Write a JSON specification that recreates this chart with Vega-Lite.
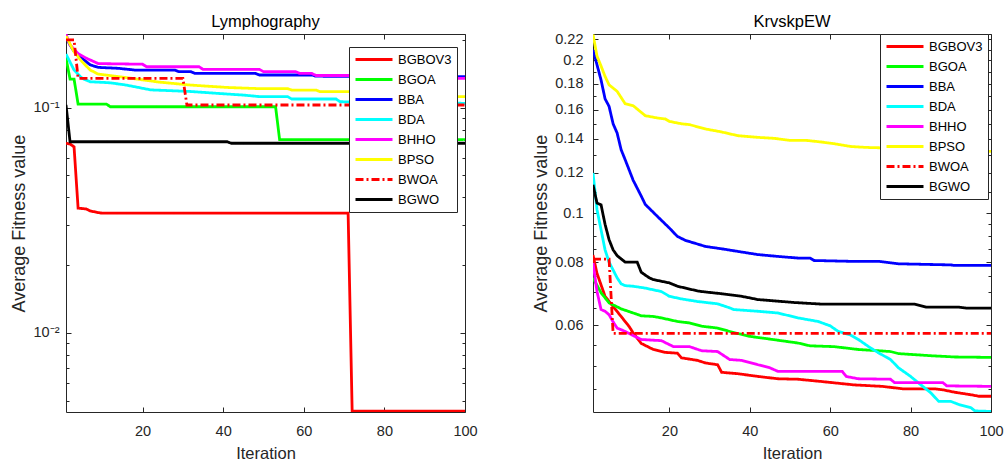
{
  "$schema": "https://vega.github.io/schema/vega-lite/v6.json",
  "background": "white",
  "padding": {"left": 10, "top": 13, "right": 5, "bottom": 5},
  "bounds": "flush",
  "spacing": 128,
  "config": {
    "font": "Liberation Sans",
    "view": {"stroke": null},
    "axis": {
      "grid": false,
      "labelFont": "Liberation Sans",
      "labelFontSize": 14.5,
      "labelColor": "#262626",
      "labelFlush": false,
      "titleFont": "Liberation Sans",
      "titleFontWeight": "normal",
      "titleColor": "#262626",
      "domainColor": "#262626",
      "tickColor": "#262626",
      "labelOverlap": false
    },
    "title": {"font": "Liberation Sans", "fontSize": 16.5, "fontWeight": "normal", "color": "#000000", "offset": 1},
    "legend": {
      "symbolType": "stroke",
      "symbolSize": 1369,
      "symbolStrokeWidth": 3,
      "clipHeight": 15,
      "rowPadding": 5,
      "padding": 5,
      "labelFont": "Liberation Sans",
      "labelFontSize": 13,
      "labelColor": "#000000",
      "labelOffset": 4,
      "labelLimit": 200,
      "strokeColor": "#262626",
      "fillColor": "white"
    }
  },
  "datasets": {
    "lymph": [
      {"alg": "BGBOV3", "it": 1, "v": 0.0695}, {"alg": "BGBOV3", "it": 2, "v": 0.069}, {"alg": "BGBOV3", "it": 3, "v": 0.067}, {"alg": "BGBOV3", "it": 4, "v": 0.0358}, {"alg": "BGBOV3", "it": 6, "v": 0.0355}, {"alg": "BGBOV3", "it": 7, "v": 0.0348}, {"alg": "BGBOV3", "it": 9, "v": 0.0342}, {"alg": "BGBOV3", "it": 10, "v": 0.034}, {"alg": "BGBOV3", "it": 71, "v": 0.034}, {"alg": "BGBOV3", "it": 72, "v": 0.00449}, {"alg": "BGBOV3", "it": 100, "v": 0.00449},
      {"alg": "BGOA", "it": 1, "v": 0.166}, {"alg": "BGOA", "it": 2, "v": 0.134}, {"alg": "BGOA", "it": 3, "v": 0.134}, {"alg": "BGOA", "it": 4, "v": 0.1038}, {"alg": "BGOA", "it": 11, "v": 0.1038}, {"alg": "BGOA", "it": 12, "v": 0.101}, {"alg": "BGOA", "it": 53, "v": 0.101}, {"alg": "BGOA", "it": 54, "v": 0.0722}, {"alg": "BGOA", "it": 100, "v": 0.0722},
      {"alg": "BBA", "it": 1, "v": 0.205}, {"alg": "BBA", "it": 2, "v": 0.19}, {"alg": "BBA", "it": 3, "v": 0.178}, {"alg": "BBA", "it": 5, "v": 0.1657}, {"alg": "BBA", "it": 7, "v": 0.155}, {"alg": "BBA", "it": 9, "v": 0.151}, {"alg": "BBA", "it": 14, "v": 0.1496}, {"alg": "BBA", "it": 18, "v": 0.147}, {"alg": "BBA", "it": 28, "v": 0.147}, {"alg": "BBA", "it": 29, "v": 0.1445}, {"alg": "BBA", "it": 32, "v": 0.1445}, {"alg": "BBA", "it": 33, "v": 0.142}, {"alg": "BBA", "it": 48, "v": 0.142}, {"alg": "BBA", "it": 49, "v": 0.1397}, {"alg": "BBA", "it": 62, "v": 0.1397}, {"alg": "BBA", "it": 63, "v": 0.138}, {"alg": "BBA", "it": 100, "v": 0.1375},
      {"alg": "BDA", "it": 1, "v": 0.173}, {"alg": "BDA", "it": 3, "v": 0.147}, {"alg": "BDA", "it": 5, "v": 0.135}, {"alg": "BDA", "it": 7, "v": 0.1304}, {"alg": "BDA", "it": 12, "v": 0.129}, {"alg": "BDA", "it": 16, "v": 0.126}, {"alg": "BDA", "it": 22, "v": 0.12}, {"alg": "BDA", "it": 32, "v": 0.118}, {"alg": "BDA", "it": 41, "v": 0.115}, {"alg": "BDA", "it": 45, "v": 0.1138}, {"alg": "BDA", "it": 49, "v": 0.112}, {"alg": "BDA", "it": 56, "v": 0.112}, {"alg": "BDA", "it": 57, "v": 0.1093}, {"alg": "BDA", "it": 68, "v": 0.1093}, {"alg": "BDA", "it": 69, "v": 0.1063}, {"alg": "BDA", "it": 85, "v": 0.105}, {"alg": "BDA", "it": 100, "v": 0.1046},
      {"alg": "BHHO", "it": 1, "v": 0.212}, {"alg": "BHHO", "it": 2, "v": 0.19}, {"alg": "BHHO", "it": 4, "v": 0.174}, {"alg": "BHHO", "it": 6, "v": 0.166}, {"alg": "BHHO", "it": 8, "v": 0.16}, {"alg": "BHHO", "it": 9, "v": 0.157}, {"alg": "BHHO", "it": 20, "v": 0.156}, {"alg": "BHHO", "it": 21, "v": 0.152}, {"alg": "BHHO", "it": 34, "v": 0.152}, {"alg": "BHHO", "it": 35, "v": 0.148}, {"alg": "BHHO", "it": 49, "v": 0.148}, {"alg": "BHHO", "it": 50, "v": 0.1445}, {"alg": "BHHO", "it": 58, "v": 0.1445}, {"alg": "BHHO", "it": 59, "v": 0.142}, {"alg": "BHHO", "it": 62, "v": 0.142}, {"alg": "BHHO", "it": 63, "v": 0.139}, {"alg": "BHHO", "it": 80, "v": 0.139}, {"alg": "BHHO", "it": 81, "v": 0.1351}, {"alg": "BHHO", "it": 100, "v": 0.1351},
      {"alg": "BPSO", "it": 1, "v": 0.208}, {"alg": "BPSO", "it": 3, "v": 0.177}, {"alg": "BPSO", "it": 5, "v": 0.16}, {"alg": "BPSO", "it": 7, "v": 0.147}, {"alg": "BPSO", "it": 9, "v": 0.141}, {"alg": "BPSO", "it": 16, "v": 0.136}, {"alg": "BPSO", "it": 24, "v": 0.13}, {"alg": "BPSO", "it": 32, "v": 0.126}, {"alg": "BPSO", "it": 41, "v": 0.123}, {"alg": "BPSO", "it": 49, "v": 0.1215}, {"alg": "BPSO", "it": 56, "v": 0.1215}, {"alg": "BPSO", "it": 57, "v": 0.1198}, {"alg": "BPSO", "it": 63, "v": 0.1198}, {"alg": "BPSO", "it": 64, "v": 0.1178}, {"alg": "BPSO", "it": 72, "v": 0.1178}, {"alg": "BPSO", "it": 90, "v": 0.116}, {"alg": "BPSO", "it": 96, "v": 0.115}, {"alg": "BPSO", "it": 98, "v": 0.112}, {"alg": "BPSO", "it": 100, "v": 0.112},
      {"alg": "BWOA", "it": 1, "v": 0.2}, {"alg": "BWOA", "it": 3, "v": 0.2}, {"alg": "BWOA", "it": 4, "v": 0.1351}, {"alg": "BWOA", "it": 30, "v": 0.1351}, {"alg": "BWOA", "it": 31, "v": 0.1028}, {"alg": "BWOA", "it": 100, "v": 0.1028},
      {"alg": "BGWO", "it": 1, "v": 0.103}, {"alg": "BGWO", "it": 2, "v": 0.0706}, {"alg": "BGWO", "it": 41, "v": 0.0706}, {"alg": "BGWO", "it": 42, "v": 0.0695}, {"alg": "BGWO", "it": 100, "v": 0.0695}
    ],
    "krvs": [
      {"alg": "BGBOV3", "it": 1, "v": 0.0826}, {"alg": "BGBOV3", "it": 2, "v": 0.076}, {"alg": "BGBOV3", "it": 4, "v": 0.0685}, {"alg": "BGBOV3", "it": 6, "v": 0.0654}, {"alg": "BGBOV3", "it": 8, "v": 0.0625}, {"alg": "BGBOV3", "it": 10, "v": 0.0597}, {"alg": "BGBOV3", "it": 11, "v": 0.058}, {"alg": "BGBOV3", "it": 13, "v": 0.0553}, {"alg": "BGBOV3", "it": 16, "v": 0.0538}, {"alg": "BGBOV3", "it": 19, "v": 0.0531}, {"alg": "BGBOV3", "it": 22, "v": 0.0529}, {"alg": "BGBOV3", "it": 23, "v": 0.0518}, {"alg": "BGBOV3", "it": 27, "v": 0.0512}, {"alg": "BGBOV3", "it": 29, "v": 0.0506}, {"alg": "BGBOV3", "it": 32, "v": 0.0502}, {"alg": "BGBOV3", "it": 33, "v": 0.0485}, {"alg": "BGBOV3", "it": 37, "v": 0.0482}, {"alg": "BGBOV3", "it": 42, "v": 0.0476}, {"alg": "BGBOV3", "it": 47, "v": 0.0471}, {"alg": "BGBOV3", "it": 52, "v": 0.047}, {"alg": "BGBOV3", "it": 58, "v": 0.0465}, {"alg": "BGBOV3", "it": 66, "v": 0.0458}, {"alg": "BGBOV3", "it": 73, "v": 0.0455}, {"alg": "BGBOV3", "it": 78, "v": 0.045}, {"alg": "BGBOV3", "it": 86, "v": 0.045}, {"alg": "BGBOV3", "it": 88, "v": 0.0448}, {"alg": "BGBOV3", "it": 91, "v": 0.0443}, {"alg": "BGBOV3", "it": 95, "v": 0.0438}, {"alg": "BGBOV3", "it": 97, "v": 0.0435}, {"alg": "BGBOV3", "it": 100, "v": 0.0435},
      {"alg": "BGOA", "it": 1, "v": 0.0745}, {"alg": "BGOA", "it": 3, "v": 0.0696}, {"alg": "BGOA", "it": 5, "v": 0.0665}, {"alg": "BGOA", "it": 8, "v": 0.0647}, {"alg": "BGOA", "it": 11, "v": 0.0635}, {"alg": "BGOA", "it": 13, "v": 0.0627}, {"alg": "BGOA", "it": 16, "v": 0.0625}, {"alg": "BGOA", "it": 18, "v": 0.0621}, {"alg": "BGOA", "it": 22, "v": 0.0611}, {"alg": "BGOA", "it": 25, "v": 0.0607}, {"alg": "BGOA", "it": 28, "v": 0.0598}, {"alg": "BGOA", "it": 32, "v": 0.0593}, {"alg": "BGOA", "it": 36, "v": 0.0581}, {"alg": "BGOA", "it": 40, "v": 0.0571}, {"alg": "BGOA", "it": 45, "v": 0.0564}, {"alg": "BGOA", "it": 52, "v": 0.0554}, {"alg": "BGOA", "it": 55, "v": 0.0547}, {"alg": "BGOA", "it": 61, "v": 0.0545}, {"alg": "BGOA", "it": 67, "v": 0.0538}, {"alg": "BGOA", "it": 75, "v": 0.0533}, {"alg": "BGOA", "it": 77, "v": 0.0528}, {"alg": "BGOA", "it": 85, "v": 0.0523}, {"alg": "BGOA", "it": 91, "v": 0.052}, {"alg": "BGOA", "it": 100, "v": 0.0519},
      {"alg": "BBA", "it": 1, "v": 0.21}, {"alg": "BBA", "it": 3, "v": 0.183}, {"alg": "BBA", "it": 4, "v": 0.168}, {"alg": "BBA", "it": 5, "v": 0.1623}, {"alg": "BBA", "it": 6, "v": 0.15}, {"alg": "BBA", "it": 7, "v": 0.1438}, {"alg": "BBA", "it": 8, "v": 0.1333}, {"alg": "BBA", "it": 9, "v": 0.1274}, {"alg": "BBA", "it": 11, "v": 0.116}, {"alg": "BBA", "it": 13, "v": 0.108}, {"alg": "BBA", "it": 14, "v": 0.104}, {"alg": "BBA", "it": 17, "v": 0.0985}, {"alg": "BBA", "it": 20, "v": 0.0934}, {"alg": "BBA", "it": 22, "v": 0.0899}, {"alg": "BBA", "it": 24, "v": 0.0883}, {"alg": "BBA", "it": 29, "v": 0.0859}, {"alg": "BBA", "it": 33, "v": 0.085}, {"alg": "BBA", "it": 37, "v": 0.084}, {"alg": "BBA", "it": 42, "v": 0.0828}, {"alg": "BBA", "it": 47, "v": 0.0821}, {"alg": "BBA", "it": 52, "v": 0.0815}, {"alg": "BBA", "it": 55, "v": 0.0815}, {"alg": "BBA", "it": 56, "v": 0.0806}, {"alg": "BBA", "it": 65, "v": 0.0803}, {"alg": "BBA", "it": 72, "v": 0.0803}, {"alg": "BBA", "it": 77, "v": 0.0794}, {"alg": "BBA", "it": 90, "v": 0.079}, {"alg": "BBA", "it": 91, "v": 0.0788}, {"alg": "BBA", "it": 100, "v": 0.0788},
      {"alg": "BDA", "it": 1, "v": 0.12}, {"alg": "BDA", "it": 2, "v": 0.1015}, {"alg": "BDA", "it": 3, "v": 0.0927}, {"alg": "BDA", "it": 4, "v": 0.0846}, {"alg": "BDA", "it": 5, "v": 0.08}, {"alg": "BDA", "it": 7, "v": 0.0745}, {"alg": "BDA", "it": 8, "v": 0.0725}, {"alg": "BDA", "it": 9, "v": 0.0719}, {"alg": "BDA", "it": 11, "v": 0.0717}, {"alg": "BDA", "it": 14, "v": 0.0711}, {"alg": "BDA", "it": 18, "v": 0.07}, {"alg": "BDA", "it": 20, "v": 0.0685}, {"alg": "BDA", "it": 23, "v": 0.0677}, {"alg": "BDA", "it": 27, "v": 0.0669}, {"alg": "BDA", "it": 32, "v": 0.0662}, {"alg": "BDA", "it": 35, "v": 0.065}, {"alg": "BDA", "it": 36, "v": 0.0645}, {"alg": "BDA", "it": 42, "v": 0.064}, {"alg": "BDA", "it": 47, "v": 0.0635}, {"alg": "BDA", "it": 52, "v": 0.0621}, {"alg": "BDA", "it": 57, "v": 0.0611}, {"alg": "BDA", "it": 60, "v": 0.0599}, {"alg": "BDA", "it": 62, "v": 0.0584}, {"alg": "BDA", "it": 65, "v": 0.0575}, {"alg": "BDA", "it": 67, "v": 0.0563}, {"alg": "BDA", "it": 70, "v": 0.0542}, {"alg": "BDA", "it": 72, "v": 0.053}, {"alg": "BDA", "it": 75, "v": 0.0514}, {"alg": "BDA", "it": 77, "v": 0.0495}, {"alg": "BDA", "it": 80, "v": 0.0476}, {"alg": "BDA", "it": 82, "v": 0.0462}, {"alg": "BDA", "it": 85, "v": 0.0442}, {"alg": "BDA", "it": 87, "v": 0.0425}, {"alg": "BDA", "it": 90, "v": 0.0425}, {"alg": "BDA", "it": 92, "v": 0.0419}, {"alg": "BDA", "it": 95, "v": 0.0413}, {"alg": "BDA", "it": 96, "v": 0.0407}, {"alg": "BDA", "it": 100, "v": 0.0406},
      {"alg": "BHHO", "it": 1, "v": 0.0797}, {"alg": "BHHO", "it": 2, "v": 0.07}, {"alg": "BHHO", "it": 3, "v": 0.0645}, {"alg": "BHHO", "it": 4, "v": 0.064}, {"alg": "BHHO", "it": 5, "v": 0.063}, {"alg": "BHHO", "it": 6, "v": 0.061}, {"alg": "BHHO", "it": 7, "v": 0.0593}, {"alg": "BHHO", "it": 9, "v": 0.0584}, {"alg": "BHHO", "it": 11, "v": 0.0573}, {"alg": "BHHO", "it": 13, "v": 0.0563}, {"alg": "BHHO", "it": 18, "v": 0.056}, {"alg": "BHHO", "it": 20, "v": 0.055}, {"alg": "BHHO", "it": 21, "v": 0.0545}, {"alg": "BHHO", "it": 25, "v": 0.0545}, {"alg": "BHHO", "it": 28, "v": 0.0535}, {"alg": "BHHO", "it": 32, "v": 0.0533}, {"alg": "BHHO", "it": 35, "v": 0.0514}, {"alg": "BHHO", "it": 38, "v": 0.0512}, {"alg": "BHHO", "it": 42, "v": 0.0502}, {"alg": "BHHO", "it": 45, "v": 0.0495}, {"alg": "BHHO", "it": 47, "v": 0.0487}, {"alg": "BHHO", "it": 63, "v": 0.0487}, {"alg": "BHHO", "it": 64, "v": 0.0476}, {"alg": "BHHO", "it": 67, "v": 0.0471}, {"alg": "BHHO", "it": 75, "v": 0.047}, {"alg": "BHHO", "it": 76, "v": 0.0463}, {"alg": "BHHO", "it": 88, "v": 0.0463}, {"alg": "BHHO", "it": 89, "v": 0.0456}, {"alg": "BHHO", "it": 100, "v": 0.0455},
      {"alg": "BPSO", "it": 1, "v": 0.225}, {"alg": "BPSO", "it": 2, "v": 0.204}, {"alg": "BPSO", "it": 3, "v": 0.195}, {"alg": "BPSO", "it": 4, "v": 0.186}, {"alg": "BPSO", "it": 5, "v": 0.179}, {"alg": "BPSO", "it": 7, "v": 0.1738}, {"alg": "BPSO", "it": 9, "v": 0.1643}, {"alg": "BPSO", "it": 11, "v": 0.1628}, {"alg": "BPSO", "it": 14, "v": 0.1556}, {"alg": "BPSO", "it": 17, "v": 0.154}, {"alg": "BPSO", "it": 19, "v": 0.1533}, {"alg": "BPSO", "it": 20, "v": 0.1516}, {"alg": "BPSO", "it": 23, "v": 0.15}, {"alg": "BPSO", "it": 25, "v": 0.1494}, {"alg": "BPSO", "it": 29, "v": 0.1465}, {"alg": "BPSO", "it": 33, "v": 0.1445}, {"alg": "BPSO", "it": 37, "v": 0.1421}, {"alg": "BPSO", "it": 42, "v": 0.141}, {"alg": "BPSO", "it": 46, "v": 0.1404}, {"alg": "BPSO", "it": 50, "v": 0.1391}, {"alg": "BPSO", "it": 54, "v": 0.1391}, {"alg": "BPSO", "it": 58, "v": 0.138}, {"alg": "BPSO", "it": 61, "v": 0.137}, {"alg": "BPSO", "it": 65, "v": 0.1353}, {"alg": "BPSO", "it": 69, "v": 0.1347}, {"alg": "BPSO", "it": 80, "v": 0.134}, {"alg": "BPSO", "it": 90, "v": 0.1333}, {"alg": "BPSO", "it": 100, "v": 0.1323},
      {"alg": "BWOA", "it": 1, "v": 0.0811}, {"alg": "BWOA", "it": 5, "v": 0.0811}, {"alg": "BWOA", "it": 6, "v": 0.0579}, {"alg": "BWOA", "it": 100, "v": 0.0579},
      {"alg": "BGWO", "it": 1, "v": 0.1137}, {"alg": "BGWO", "it": 2, "v": 0.1046}, {"alg": "BGWO", "it": 3, "v": 0.1038}, {"alg": "BGWO", "it": 4, "v": 0.095}, {"alg": "BGWO", "it": 5, "v": 0.0886}, {"alg": "BGWO", "it": 6, "v": 0.0846}, {"alg": "BGWO", "it": 7, "v": 0.0824}, {"alg": "BGWO", "it": 9, "v": 0.08}, {"alg": "BGWO", "it": 12, "v": 0.08}, {"alg": "BGWO", "it": 13, "v": 0.0764}, {"alg": "BGWO", "it": 15, "v": 0.0745}, {"alg": "BGWO", "it": 16, "v": 0.0739}, {"alg": "BGWO", "it": 20, "v": 0.0728}, {"alg": "BGWO", "it": 22, "v": 0.0717}, {"alg": "BGWO", "it": 27, "v": 0.0702}, {"alg": "BGWO", "it": 28, "v": 0.07}, {"alg": "BGWO", "it": 33, "v": 0.0693}, {"alg": "BGWO", "it": 38, "v": 0.0685}, {"alg": "BGWO", "it": 42, "v": 0.0675}, {"alg": "BGWO", "it": 51, "v": 0.0666}, {"alg": "BGWO", "it": 58, "v": 0.0661}, {"alg": "BGWO", "it": 81, "v": 0.0661}, {"alg": "BGWO", "it": 84, "v": 0.0652}, {"alg": "BGWO", "it": 92, "v": 0.0652}, {"alg": "BGWO", "it": 94, "v": 0.0649}, {"alg": "BGWO", "it": 100, "v": 0.0649}
    ]
  },
  "resolve": {"legend": {"color": "independent", "strokeDash": "independent"}},
  "hconcat": [
    {
      "width": 399,
      "height": 378,
      "title": "Lymphography",
      "data": {"name": "lymph"},
      "layer": [
        {
          "mark": {"type": "line", "clip": true},
          "encoding": {
            "x": {"field": "it", "type": "quantitative", "scale": {"domain": [1, 100], "nice": false, "zero": false},
                  "axis": {"title": "Iteration", "titleFontSize": 16.5, "titlePadding": 8, "values": [20, 40, 60, 80, 100], "tickSize": -5, "labelPadding": 17}},
            "y": {"field": "v", "type": "quantitative", "scale": {"type": "log", "domain": [0.00445, 0.2125], "nice": false, "zero": false},
                  "axis": {"title": "Average Fitness value", "titleFontSize": 18, "titlePadding": 5,
                           "values": [0.005, 0.006, 0.007, 0.008, 0.009, 0.01, 0.02, 0.03, 0.04, 0.05, 0.06, 0.07, 0.08, 0.09, 0.1, 0.2],
                           "labelExpr": "datum.value == 0.1 ? '10⁻¹' : (datum.value == 0.01 ? '10⁻²' : '')",
                           "tickSize": {"condition": {"test": "datum.value == 0.1 || datum.value == 0.01", "value": -5}, "value": -3},
                           "labelPadding": 12}},
            "color": {"field": "alg", "type": "nominal",
                      "scale": {"domain": ["BGBOV3", "BGOA", "BBA", "BDA", "BHHO", "BPSO", "BWOA", "BGWO"],
                                "range": ["#ff0000", "#00ff00", "#0000ff", "#00ffff", "#ff00ff", "#ffff00", "#ff0000", "#000000"]},
                      "legend": {"title": null, "orient": "none", "legendX": 283, "legendY": 13}},
            "strokeDash": {"field": "alg", "type": "nominal",
                           "scale": {"domain": ["BGBOV3", "BGOA", "BBA", "BDA", "BHHO", "BPSO", "BWOA", "BGWO"],
                                     "range": [[1, 0], [1, 0], [1, 0], [1, 0], [1, 0], [1, 0], [8, 3, 2, 3], [1, 0]]},
                           "legend": {"title": null, "orient": "none", "legendX": 283, "legendY": 13}},
            "strokeWidth": {"field": "alg", "type": "nominal",
                            "scale": {"domain": ["BGBOV3", "BGOA", "BBA", "BDA", "BHHO", "BPSO", "BWOA", "BGWO"],
                                      "range": [2.8, 2.8, 2.8, 2.8, 2.8, 2.8, 2, 2.8]},
                            "legend": null},
            "order": {"field": "it", "type": "quantitative"}
          }
        },
        {
          "mark": {"type": "line", "opacity": 0, "clip": true},
          "encoding": {
            "x": {"field": "it", "type": "quantitative", "axis": {"orient": "top", "labels": false, "title": null, "values": [20, 40, 60, 80, 100], "tickSize": -5}},
            "y": {"field": "v", "type": "quantitative",
                  "axis": {"orient": "right", "labels": false, "title": null,
                           "values": [0.005, 0.006, 0.007, 0.008, 0.009, 0.01, 0.02, 0.03, 0.04, 0.05, 0.06, 0.07, 0.08, 0.09, 0.1, 0.2],
                           "tickSize": {"condition": {"test": "datum.value == 0.1 || datum.value == 0.01", "value": -5}, "value": -3}}},
            "detail": {"field": "alg", "type": "nominal"}
          }
        }
      ],
      "resolve": {"axis": {"x": "independent", "y": "independent"}}
    },
    {
      "width": 398,
      "height": 378,
      "title": "KrvskpEW",
      "data": {"name": "krvs"},
      "layer": [
        {
          "mark": {"type": "line", "clip": true},
          "encoding": {
            "x": {"field": "it", "type": "quantitative", "scale": {"domain": [1, 100], "nice": false, "zero": false},
                  "axis": {"title": "Iteration", "titleFontSize": 16.5, "titlePadding": 8, "values": [20, 40, 60, 80, 100], "tickSize": -5, "labelPadding": 17}},
            "y": {"field": "v", "type": "quantitative", "scale": {"type": "log", "domain": [0.0405, 0.2255], "nice": false, "zero": false},
                  "axis": {"title": "Average Fitness value", "titleFontSize": 18, "titlePadding": 4,
                           "values": [0.045, 0.05, 0.055, 0.06, 0.065, 0.07, 0.075, 0.08, 0.085, 0.09, 0.095, 0.1, 0.11, 0.12, 0.13, 0.14, 0.15, 0.16, 0.17, 0.18, 0.19, 0.2, 0.21, 0.22],
                           "labelExpr": "indexof([0.06, 0.08, 0.1, 0.12, 0.14, 0.16, 0.18, 0.2, 0.22], datum.value) >= 0 ? format(datum.value, '.2~f') : ''",
                           "tickSize": {"condition": {"test": "indexof([0.06, 0.08, 0.1, 0.12, 0.14, 0.16, 0.18, 0.2, 0.22], datum.value) >= 0", "value": -5}, "value": -3},
                           "labelPadding": 15}},
            "color": {"field": "alg", "type": "nominal",
                      "scale": {"domain": ["BGBOV3", "BGOA", "BBA", "BDA", "BHHO", "BPSO", "BWOA", "BGWO"],
                                "range": ["#ff0000", "#00ff00", "#0000ff", "#00ffff", "#ff00ff", "#ffff00", "#ff0000", "#000000"]},
                      "legend": {"title": null, "orient": "none", "legendX": 287, "legendY": 0}},
            "strokeDash": {"field": "alg", "type": "nominal",
                           "scale": {"domain": ["BGBOV3", "BGOA", "BBA", "BDA", "BHHO", "BPSO", "BWOA", "BGWO"],
                                     "range": [[1, 0], [1, 0], [1, 0], [1, 0], [1, 0], [1, 0], [8, 3, 2, 3], [1, 0]]},
                           "legend": {"title": null, "orient": "none", "legendX": 287, "legendY": 0}},
            "strokeWidth": {"field": "alg", "type": "nominal",
                            "scale": {"domain": ["BGBOV3", "BGOA", "BBA", "BDA", "BHHO", "BPSO", "BWOA", "BGWO"],
                                      "range": [2.8, 2.8, 2.8, 2.8, 2.8, 2.8, 2, 2.8]},
                            "legend": null},
            "order": {"field": "it", "type": "quantitative"}
          }
        },
        {
          "mark": {"type": "line", "opacity": 0, "clip": true},
          "encoding": {
            "x": {"field": "it", "type": "quantitative", "axis": {"orient": "top", "labels": false, "title": null, "values": [20, 40, 60, 80, 100], "tickSize": -5}},
            "y": {"field": "v", "type": "quantitative",
                  "axis": {"orient": "right", "labels": false, "title": null,
                           "values": [0.045, 0.05, 0.055, 0.06, 0.065, 0.07, 0.075, 0.08, 0.085, 0.09, 0.095, 0.1, 0.11, 0.12, 0.13, 0.14, 0.15, 0.16, 0.17, 0.18, 0.19, 0.2, 0.21, 0.22],
                           "tickSize": {"condition": {"test": "indexof([0.06, 0.08, 0.1, 0.12, 0.14, 0.16, 0.18, 0.2, 0.22], datum.value) >= 0", "value": -5}, "value": -3}}},
            "detail": {"field": "alg", "type": "nominal"}
          }
        }
      ],
      "resolve": {"axis": {"x": "independent", "y": "independent"}}
    }
  ]
}
